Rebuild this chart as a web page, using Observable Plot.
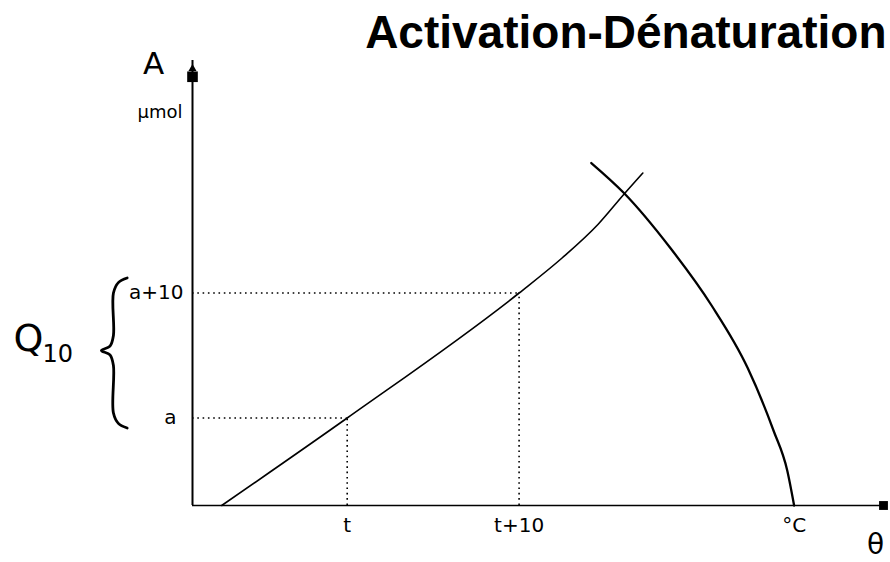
<!DOCTYPE html>
<html>
<head>
<meta charset="utf-8">
<script src="https://cdn.jsdelivr.net/npm/d3@7"></script>
<script src="https://cdn.jsdelivr.net/npm/@observablehq/plot@0.6"></script>
<style>
  body { margin: 0; background: #fff; }
  #chart svg { display: block; }
</style>
</head>
<body>
<div id="chart"></div>
<script>
// ---- data ----
const title = "Activation-Dénaturation";
const yAxisLabel = "A";
const yUnitLabel = "µmol";
const xAxisLabel = "θ";
const q10Letter = "Q";
const q10Sub = "10";

const xTickValues = [9, 19, 35];
const xTickLabels = ["t", "t+10", "°C"];
const yTickValues = [7, 17];
const yTickLabels = ["a", "a+10"];

const activationX = [1.7, 9, 19, 21.5, 23.6, 25.1, 26.2];
const activationY = [0, 7, 17, 19.8, 22.5, 24.9, 26.6];

const denaturationX = [23.2, 25.1, 27.8, 30.2, 32.3, 33.8, 34.6, 35.0];
const denaturationY = [27.4, 25.0, 20.6, 16.0, 11.0, 6.0, 2.8, 0];

const xMax = 40.2;
const yMax = 35.6;

// ---- derived tables ----
const activation = activationX.map((x, i) => ({x, y: activationY[i]}));
const denaturation = denaturationX.map((x, i) => ({x, y: denaturationY[i]}));
const [t, t10] = xTickValues;
const [a, a10] = yTickValues;
const guides = [{x: t, y: a}, {x: t10, y: a10}];

// curly brace spanning a .. a+10 (drawn left of the axis)
const bTop = a10 + 1.2, bBot = a - 0.8, bMid = (bTop + bBot) / 2 + 0.2;
const brace = [
  [-3.8, bTop], [-4.3, bTop - 0.35], [-4.6, bTop - 1.2],
  [-4.6, bMid + 1.2], [-4.8, bMid + 0.35], [-5.3, bMid],
  [-4.8, bMid - 0.35], [-4.6, bMid - 1.2],
  [-4.6, bBot + 1.2], [-4.3, bBot + 0.35], [-3.8, bBot]
].map(([x, y]) => ({x, y}));

const labelFont = "DejaVu Sans, Verdana, sans-serif";

const chart = Plot.plot({
  width: 890,
  height: 562,
  marginLeft: 192,
  marginRight: 7,
  marginTop: 60,
  marginBottom: 57,
  style: {background: "#fff", color: "#000", fontFamily: labelFont, fontSize: "20px", overflow: "visible"},
  x: {domain: [0, xMax], axis: null},
  y: {domain: [0, yMax], axis: null},
  marks: [
    // dotted guides
    Plot.ruleY(guides, {y: "y", x1: 0, x2: "x", stroke: "#000", strokeWidth: 1.6, strokeDasharray: "1.6,3.7"}),
    Plot.ruleX(guides, {x: "x", y1: 0, y2: "y", stroke: "#000", strokeWidth: 1.6, strokeDasharray: "1.6,3.7"}),
    // axes lines
    Plot.ruleX([0], {y1: 0, y2: yMax, stroke: "#000", strokeWidth: 2}),
    Plot.ruleY([0], {x1: 0, x2: xMax, stroke: "#000", strokeWidth: 1.5}),
    Plot.dot([{x: 0, y: yMax - 1.3}], {x: "x", y: "y", symbol: "square", r: 6, fill: "#000", stroke: null}),
    Plot.dot([{x: 0, y: yMax - 0.65}], {x: "x", y: "y", symbol: "triangle", r: 3, fill: "#000", stroke: null}),
    Plot.dot([{x: xMax, y: 0}], {x: "x", y: "y", symbol: "square", r: 5, fill: "#000", stroke: null}),
    // tick labels
    Plot.axisX({ticks: xTickValues, tickFormat: (d) => xTickLabels[xTickValues.indexOf(d)], tickSize: 0, tickPadding: 12, fontSize: 20, anchor: "bottom", label: null}),
    Plot.axisY({ticks: [a10], tickFormat: () => yTickLabels[1], tickSize: 0, tickPadding: 9, fontSize: 20, anchor: "left", label: null}),
    Plot.axisY({ticks: [a], tickFormat: () => yTickLabels[0], tickSize: 0, tickPadding: 16, fontSize: 20, anchor: "left", label: null}),
    // curves
    Plot.line(activation, {x: "x", y: "y", stroke: "#000", strokeWidth: 1.6, curve: "monotone-x"}),
    Plot.line(denaturation, {x: "x", y: "y", stroke: "#000", strokeWidth: 2.3, curve: "monotone-x"}),
    // brace
    Plot.line(brace, {x: "x", y: "y", stroke: "#000", strokeWidth: 2.8, curve: "catmull-rom"}),
    // Q10
    Plot.text([q10Letter], {x: 0, y: bMid, dx: -179, dy: 0, textAnchor: "start", lineAnchor: "bottom", fontSize: 38, fill: "#000"}),
    Plot.text([q10Sub], {x: 0, y: bMid, dx: -150, dy: 11, textAnchor: "start", lineAnchor: "bottom", fontSize: 24, fill: "#000"}),
    // axis names
    Plot.text([yAxisLabel], {x: 0, y: yMax, dx: -39, dy: 4, textAnchor: "middle", lineAnchor: "middle", fontSize: 31, fill: "#000"}),
    Plot.text([yUnitLabel], {x: 0, y: yMax, dx: -10, dy: 52, textAnchor: "end", lineAnchor: "middle", fontSize: 18, fill: "#000"}),
    Plot.text([xAxisLabel], {x: xMax, y: 0, dx: -8, dy: 40, textAnchor: "middle", lineAnchor: "middle", fontSize: 28, fill: "#000"}),
    // title
    Plot.text([title], {frameAnchor: "top-right", dx: 3, dy: -13, textAnchor: "end", lineAnchor: "bottom", fontSize: 46, fontWeight: "bold", fontFamily: "Liberation Sans, Arial, Helvetica, sans-serif", fill: "#000"})
  ]
});
document.getElementById("chart").appendChild(chart);
</script>
</body>
</html>
